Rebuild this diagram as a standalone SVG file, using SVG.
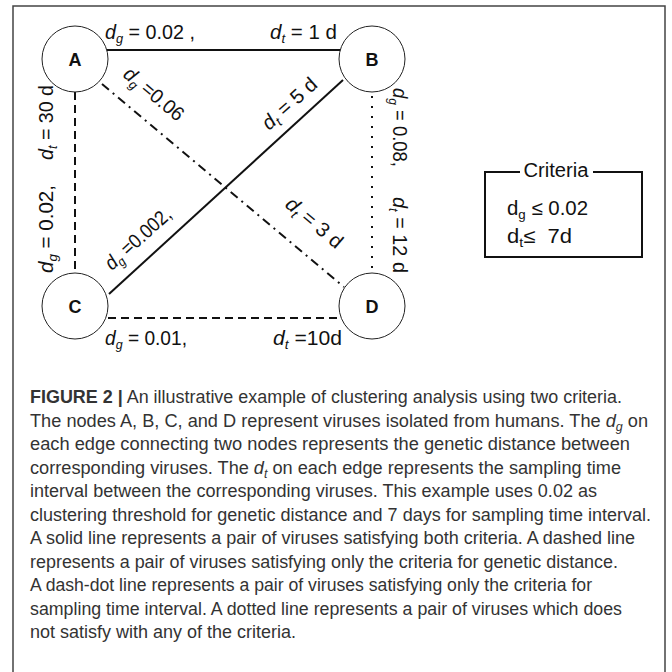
<svg xmlns="http://www.w3.org/2000/svg" width="672" height="672" viewBox="0 0 672 672">
<style>
  .frame { fill: none; stroke: #444; stroke-width: 1.5; }
  .node circle { fill: #fff; stroke: #222; stroke-width: 1; }
  .node text { font-family: "Liberation Sans", Arial, sans-serif; font-weight: bold; font-size: 18px; fill: #111; text-anchor: middle; }
  .edge { fill: none; stroke: #111; stroke-width: 2; }
  .dashed { stroke-dasharray: 8 5; }
  .dashdot { stroke-dasharray: 9 5 2 5; }
  .dotted { stroke-dasharray: 2 8; }
  .lbl { font-family: "Liberation Sans", Arial, sans-serif; font-size: 20px; fill: #111; }
  .it { font-style: italic; }
  .sub { font-size: 13px; font-style: italic; }
  .crit { font-family: "Liberation Sans", Arial, sans-serif; font-size: 20px; fill: #111; }
  .csub { font-size: 13px; }
  .cap { font-family: "Liberation Sans", Arial, sans-serif; font-size: 17.5px; fill: #333; }
  .bold { font-weight: bold; }
</style>

<path class="frame" d="M13,672 V6 H665 V672"/>

<g id="connectors">
  <line class="edge" x1="107" y1="50" x2="341" y2="50"/>
  <line class="edge dashed" x1="75" y1="92" x2="75" y2="273"/>
  <line class="edge dotted" x1="372" y1="96" x2="372" y2="273"/>
  <line class="edge dashdot" x1="102" y1="84" x2="344" y2="287"/>
  <line class="edge" x1="343" y1="80" x2="109" y2="294"/>
  <line class="edge dashed" x1="108" y1="318" x2="339" y2="318"/>
</g>

<g id="edge-labels">
  <text class="lbl" x="105" y="39" textLength="90" lengthAdjust="spacingAndGlyphs"><tspan class="it">d</tspan><tspan class="sub" dy="4">g</tspan><tspan dy="-4"> = 0.02 ,</tspan></text>
  <text class="lbl" x="270" y="39" textLength="67" lengthAdjust="spacingAndGlyphs"><tspan class="it">d</tspan><tspan class="sub" dy="4">t</tspan><tspan dy="-4"> = 1 d</tspan></text>

  <text class="lbl" transform="translate(53,160) rotate(-90)" textLength="75" lengthAdjust="spacingAndGlyphs"><tspan class="it">d</tspan><tspan class="sub" dy="4">t</tspan><tspan dy="-4"> = 30 d</tspan></text>
  <text class="lbl" transform="translate(53,273) rotate(-90)" textLength="88" lengthAdjust="spacingAndGlyphs"><tspan class="it">d</tspan><tspan class="sub" dy="4">g</tspan><tspan dy="-4"> = 0.02,</tspan></text>

  <text class="lbl" transform="translate(393,88) rotate(90)" textLength="79" lengthAdjust="spacingAndGlyphs"><tspan class="it">d</tspan><tspan class="sub" dy="4">g</tspan><tspan dy="-4"> = 0.08,</tspan></text>
  <text class="lbl" transform="translate(393,197) rotate(90)" textLength="76" lengthAdjust="spacingAndGlyphs"><tspan class="it">d</tspan><tspan class="sub" dy="4">t</tspan><tspan dy="-4"> = 12 d</tspan></text>

  <text class="lbl" transform="translate(122,76) rotate(40)" textLength="72" lengthAdjust="spacingAndGlyphs"><tspan class="it">d</tspan><tspan class="sub" dy="4">g</tspan><tspan dy="-4"> =0.06</tspan></text>
  <text class="lbl" transform="translate(284,206) rotate(40)" textLength="68" lengthAdjust="spacingAndGlyphs"><tspan class="it">d</tspan><tspan class="sub" dy="4">t</tspan><tspan dy="-4"> = 3 d</tspan></text>

  <text class="lbl" transform="translate(269,131) rotate(-42)" textLength="67" lengthAdjust="spacingAndGlyphs"><tspan class="it">d</tspan><tspan class="sub" dy="4">t</tspan><tspan dy="-4"> = 5 d</tspan></text>
  <text class="lbl" transform="translate(112,271) rotate(-42)" textLength="82" lengthAdjust="spacingAndGlyphs"><tspan class="it">d</tspan><tspan class="sub" dy="4">g</tspan><tspan dy="-4"> =0.002,</tspan></text>

  <text class="lbl" x="105" y="345" textLength="82" lengthAdjust="spacingAndGlyphs"><tspan class="it">d</tspan><tspan class="sub" dy="4">g</tspan><tspan dy="-4"> = 0.01,</tspan></text>
  <text class="lbl" x="273" y="345" textLength="69" lengthAdjust="spacingAndGlyphs"><tspan class="it">d</tspan><tspan class="sub" dy="4">t</tspan><tspan dy="-4"> =10d</tspan></text>
</g>

<g id="node-A" class="node"><circle cx="75" cy="59" r="33"/><text x="75" y="65.5">A</text></g>
<g id="node-B" class="node"><circle cx="372" cy="59" r="33"/><text x="372" y="65.5">B</text></g>
<g id="node-C" class="node"><circle cx="75" cy="306" r="33"/><text x="75" y="312.5">C</text></g>
<g id="node-D" class="node"><circle cx="372" cy="306" r="33"/><text x="372" y="312.5">D</text></g>

<g id="criteria">
  <path d="M520,172 H485 V257 H642 V172 H593" fill="none" stroke="#111" stroke-width="2"/>
  <text class="crit" x="556" y="177" text-anchor="middle" textLength="65" lengthAdjust="spacingAndGlyphs">Criteria</text>
  <text class="crit" x="507" y="215" textLength="81" lengthAdjust="spacingAndGlyphs">d<tspan class="csub" dy="4">g</tspan><tspan dy="-4"> ≤ 0.02</tspan></text>
  <text class="crit" x="507" y="243" textLength="65" lengthAdjust="spacingAndGlyphs" xml:space="preserve">d<tspan class="csub" dy="4">t</tspan><tspan dy="-4">≤  7d</tspan></text>
</g>

<g id="caption">
  <text class="cap" x="30" y="403" textLength="592" lengthAdjust="spacingAndGlyphs"><tspan class="bold">FIGURE 2 |</tspan> An illustrative example of clustering analysis using two criteria.</text>
  <text class="cap" x="30" y="426.5" textLength="618" lengthAdjust="spacingAndGlyphs">The nodes A, B, C, and D represent viruses isolated from humans. The <tspan class="it">d</tspan><tspan class="it" font-size="12" dy="4">g</tspan><tspan dy="-4"> on</tspan></text>
  <text class="cap" x="30" y="450" textLength="600" lengthAdjust="spacingAndGlyphs">each edge connecting two nodes represents the genetic distance between</text>
  <text class="cap" x="30" y="473.5" textLength="591" lengthAdjust="spacingAndGlyphs">corresponding viruses. The <tspan class="it">d</tspan><tspan class="it" font-size="12" dy="4">t</tspan><tspan dy="-4"> on each edge represents the sampling time</tspan></text>
  <text class="cap" x="30" y="497" textLength="567" lengthAdjust="spacingAndGlyphs">interval between the corresponding viruses. This example uses 0.02 as</text>
  <text class="cap" x="30" y="520.5" textLength="621" lengthAdjust="spacingAndGlyphs">clustering threshold for genetic distance and 7 days for sampling time interval.</text>
  <text class="cap" x="30" y="544" textLength="605" lengthAdjust="spacingAndGlyphs">A solid line represents a pair of viruses satisfying both criteria. A dashed line</text>
  <text class="cap" x="30" y="567.5" textLength="588" lengthAdjust="spacingAndGlyphs">represents a pair of viruses satisfying only the criteria for genetic distance.</text>
  <text class="cap" x="30" y="591" textLength="562" lengthAdjust="spacingAndGlyphs">A dash-dot line represents a pair of viruses satisfying only the criteria for</text>
  <text class="cap" x="30" y="614.5" textLength="592" lengthAdjust="spacingAndGlyphs">sampling time interval. A dotted line represents a pair of viruses which does</text>
  <text class="cap" x="30" y="638" textLength="266" lengthAdjust="spacingAndGlyphs">not satisfy with any of the criteria.</text>
</g>
</svg>
